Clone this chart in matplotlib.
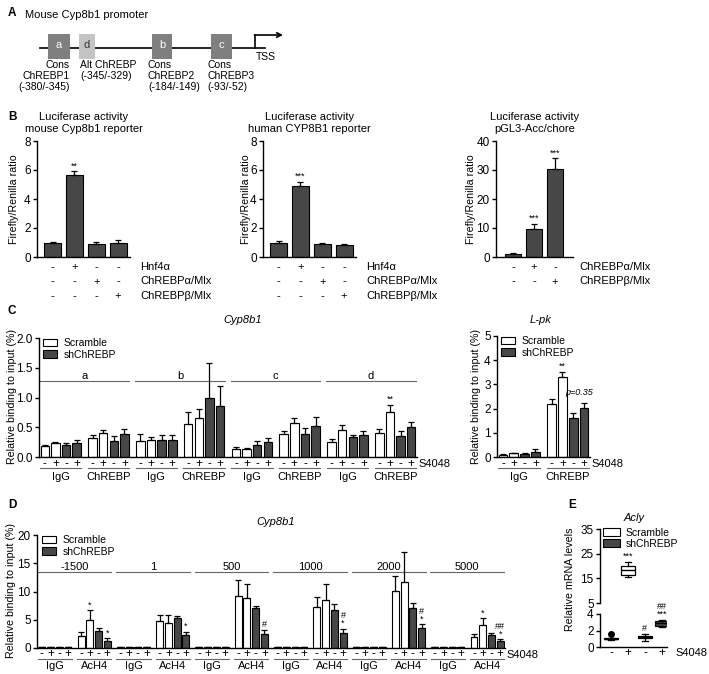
import numpy as np
import matplotlib
matplotlib.use("Agg")
import matplotlib.pyplot as plt
from matplotlib.patches import Patch, Rectangle
from matplotlib.transforms import offset_copy

plt.rcParams['font.family'] = ['Liberation Sans', 'DejaVu Sans']
plt.rcParams['font.size'] = 8
plt.rcParams['axes.linewidth'] = 1.0

W, H = 709, 674
DARK = '#474747'
GRAY_LINE = '#666666'
FS_TICK = 8.5
FS_TXT = 8
FS_YLAB = 7.7

# ---- panel B: luciferase ----
b_mouse_vals = [1.0, 5.65, 0.92, 1.0]
b_mouse_err = [0.05, 0.25, 0.10, 0.20]
b_mouse_sig = ['', '**', '', '']
b_human_vals = [1.0, 4.9, 0.92, 0.85]
b_human_err = [0.08, 0.30, 0.08, 0.05]
b_human_sig = ['', '***', '', '']
b_acc_vals = [1.0, 9.5, 30.2]
b_acc_err = [0.3, 2.0, 3.8]
b_acc_sig = ['', '***', '***']
b_rows = ['Hnf4α', 'ChREBPα/Mlx', 'ChREBPβ/Mlx']
b_signs = [['-', '+', '-', '-'], ['-', '-', '+', '-'], ['-', '-', '-', '+']]
b_acc_rows = ['ChREBPα/Mlx', 'ChREBPβ/Mlx']
b_acc_signs = [['-', '+', '-'], ['-', '-', '+']]

# ---- panel C: ChIP Cyp8b1 (Scramble -, Scramble +, shChREBP -, shChREBP +) ----
c_regions = ['a', 'b', 'c', 'd']
c_groups = ['IgG', 'ChREBP', 'IgG', 'ChREBP', 'IgG', 'ChREBP', 'IgG', 'ChREBP']
c_vals = [
    [0.18, 0.23, 0.20, 0.24],
    [0.32, 0.40, 0.27, 0.39],
    [0.27, 0.29, 0.28, 0.29],
    [0.56, 0.65, 1.00, 0.86],
    [0.14, 0.13, 0.21, 0.26],
    [0.38, 0.57, 0.38, 0.52],
    [0.26, 0.45, 0.33, 0.37],
    [0.41, 0.75, 0.36, 0.51],
]
c_err = [
    [0.02, 0.03, 0.03, 0.04],
    [0.05, 0.06, 0.08, 0.08],
    [0.12, 0.05, 0.09, 0.08],
    [0.19, 0.15, 0.58, 0.33],
    [0.02, 0.02, 0.06, 0.06],
    [0.06, 0.08, 0.11, 0.16],
    [0.04, 0.09, 0.04, 0.07],
    [0.06, 0.13, 0.08, 0.08],
]
c_sig = {(7, 1): '**'}

# L-pk
lpk_groups = ['IgG', 'ChREBP']
lpk_vals = [[0.10, 0.15, 0.13, 0.22], [2.18, 3.30, 1.60, 2.02]]
lpk_err = [[0.02, 0.03, 0.03, 0.12], [0.20, 0.23, 0.22, 0.22]]
lpk_sig = {(1, 1): '**'}

# ---- panel D: AcH4 ChIP ----
d_regions = ['-1500', '1', '500', '1000', '2000', '5000']
d_groups = ['IgG', 'AcH4'] * 6
d_vals = [
    [0.12, 0.15, 0.12, 0.10], [2.1, 5.0, 3.0, 1.3],
    [0.12, 0.15, 0.12, 0.10], [4.8, 4.4, 5.3, 2.3],
    [0.15, 0.20, 0.12, 0.10], [9.2, 8.8, 7.0, 2.5],
    [0.12, 0.15, 0.12, 0.10], [7.3, 8.5, 6.7, 2.7],
    [0.15, 0.20, 0.12, 0.10], [10.1, 11.7, 7.0, 3.5],
    [0.12, 0.15, 0.12, 0.10], [2.0, 4.1, 2.3, 1.2],
]
d_err = [
    [0.03, 0.03, 0.03, 0.03], [0.8, 1.7, 0.5, 0.4],
    [0.03, 0.03, 0.03, 0.03], [1.0, 1.4, 0.4, 0.6],
    [0.03, 0.03, 0.03, 0.03], [2.8, 2.5, 0.4, 0.7],
    [0.03, 0.03, 0.03, 0.03], [1.7, 2.8, 1.0, 0.7],
    [0.03, 0.03, 0.03, 0.03], [2.7, 5.3, 0.9, 0.7],
    [0.03, 0.03, 0.03, 0.03], [0.4, 1.2, 0.3, 0.4],
]
d_sig = {(1, 1): '*', (1, 3): '*', (3, 3): '*', (5, 3): '#', (7, 3): '#\n*',
         (9, 3): '#\n*', (11, 1): '*', (11, 3): '##\n*'}

# ---- panel E: Acly mRNA box plots ----
e_med = [1.0, 18.5, 1.2, 2.85]
e_q1 = [0.92, 16.3, 1.1, 2.55]
e_q3 = [1.08, 20.0, 1.35, 3.1]
e_lo = [0.85, 15.6, 0.7, 2.4]
e_hi = [1.15, 21.8, 1.6, 3.3]
e_fliers = [[1.6], [], [], []]
e_signs = ['-', '+', '-', '+']
e_colors = ['white', 'white', DARK, DARK]

sign4 = ['-', '+', '-', '+']

fig = plt.figure(figsize=(W / 100, H / 100), dpi=100)

# overlay in pixel coordinates for schematic and free text
ov = fig.add_axes([0, 0, 1, 1])
ov.set_xlim(0, W)
ov.set_ylim(H, 0)
ov.axis('off')


def px_axes(x0, y0, x1, y1):
    ax = fig.add_axes([x0 / W, 1 - y1 / H, (x1 - x0) / W, (y1 - y0) / H])
    ax.spines['top'].set_visible(False)
    ax.spines['right'].set_visible(False)
    ax.tick_params(direction='out', length=3, width=1, pad=1.5, labelsize=FS_TICK)
    ax.set_xticks([])
    return ax


def below(ax, dy):
    return offset_copy(ax.get_xaxis_transform(), fig=fig, x=0, y=-dy, units='dots')


def axes_off(ax, dx, dy):
    return offset_copy(ax.transAxes, fig=fig, x=dx, y=-dy, units='dots')


def mark(ax, x, top, s, size=6.5):
    ax.annotate(s, (x, top), xytext=(0, 0.5), textcoords='offset points',
                ha='center', va='bottom', fontsize=size, linespacing=0.8,
                annotation_clip=False)


# ---------------- panel A ----------------
ov.text(8, 13, 'A', fontsize=8.5, fontweight='bold', va='center')
ov.text(25, 15, 'Mouse Cyp8b1 promoter', fontsize=8, va='center')
ov.plot([40, 265], [48, 48], color='black', lw=1.2)
for lbl, x0, x1, col, tc in [('a', 48, 70, '#7f7f7f', 'white'), ('d', 79, 95, '#c4c4c4', '#333333'),
                             ('b', 152, 172, '#7f7f7f', 'white'), ('c', 211, 232, '#7f7f7f', 'white')]:
    ov.add_patch(Rectangle((x0, 34), x1 - x0, 25, facecolor=col, edgecolor='none', zorder=3))
    ov.text((x0 + x1) / 2, 45, lbl, color=tc, fontsize=8, ha='center', va='center', zorder=4)
ov.plot([255, 255], [48, 35], color='black', lw=1.2)
ov.annotate('', xy=(283, 35), xytext=(254.4, 35),
            arrowprops=dict(arrowstyle='->', lw=1.2, color='black', shrinkA=0, shrinkB=0))
ov.text(256, 57, 'TSS', fontsize=7.5, va='center')
ov.text(70, 60, 'Cons\nChREBP1\n(-380/-345)', ha='right', va='top', multialignment='right',
        fontsize=7.5, linespacing=1.15)
ov.text(80, 60, 'Alt ChREBP\n(-345/-329)', ha='left', va='top', fontsize=7.5, linespacing=1.15)
ov.text(148, 60, 'Cons\nChREBP2\n(-184/-149)', ha='left', va='top', fontsize=7.5, linespacing=1.15)
ov.text(207, 60, 'Cons\nChREBP3\n(-93/-52)', ha='left', va='top', fontsize=7.5, linespacing=1.15)

# ---------------- panel B ----------------
ov.text(8, 117, 'B', fontsize=8.5, fontweight='bold', va='center')


def lucif(box, vals, err, sig, ymax, yt, rows, signs, title, xlim, ylab_x, row_dx):
    ax = px_axes(*box)
    x = np.arange(len(vals))
    ax.bar(x, vals, 0.78, color=DARK, edgecolor='black', linewidth=0.8)
    ax.errorbar(x, vals, yerr=[np.zeros(len(vals)), err], fmt='none', ecolor='black',
                elinewidth=0.9, capsize=2.5, capthick=0.9)
    for xi, v, e, s in zip(x, vals, err, sig):
        if s:
            mark(ax, xi, v + e, s)
    ax.set_ylim(0, ymax)
    ax.set_yticks(yt)
    ax.set_xlim(*xlim)
    for r, (rname, rsigns) in enumerate(zip(rows, signs)):
        dy = 10 + 14.5 * r
        for xi, s in zip(x, rsigns):
            ax.text(xi, 0, s, transform=below(ax, dy), ha='center', va='center', fontsize=FS_TXT)
        ax.text(1, 0, rname, transform=axes_off(ax, row_dx, dy), ha='left', va='center',
                fontsize=FS_TXT)
    cx = (box[0] + box[2]) / 2
    ov.text(cx, 117, 'Luciferase activity', ha='center', va='center', fontsize=FS_TXT)
    ov.text(cx, 129, title, ha='center', va='center', fontsize=FS_TXT)
    ov.text(ylab_x, (box[1] + box[3]) / 2, 'Firefly/Renilla ratio', rotation=90,
            ha='center', va='center', fontsize=FS_YLAB)
    return ax


lucif((37, 141, 130, 257), b_mouse_vals, b_mouse_err, b_mouse_sig, 8, [0, 2, 4, 6, 8],
      b_rows, b_signs, 'mouse Cyp8b1 reporter', (-0.72, 3.55), 14, 10)
lucif((263, 141, 356, 257), b_human_vals, b_human_err, b_human_sig, 8, [0, 2, 4, 6, 8],
      b_rows, b_signs, 'human CYP8B1 reporter', (-0.72, 3.55), 246, 10)
lucif((496, 141, 573, 257), b_acc_vals, b_acc_err, b_acc_sig, 40, [0, 10, 20, 30, 40],
      b_acc_rows, b_acc_signs, 'pGL3-Acc/chore', (-0.8, 2.85), 471, 6)


# ---------------- grouped bar helper (C, D) ----------------
def chip(ax, vals, err, groups, sig, spacing=4.5, w=0.8, dy=(7, 11, 20), fs=FS_TXT):
    vals = np.array(vals)
    err = np.array(err)
    ng = vals.shape[0]
    cols = ['white', 'white', DARK, DARK]
    for k in range(4):
        xs = np.arange(ng) * spacing + k
        ax.bar(xs, vals[:, k], w, color=cols[k], edgecolor='black', linewidth=0.8, zorder=2)
        ax.errorbar(xs, vals[:, k], yerr=[np.zeros(ng), err[:, k]], fmt='none', ecolor='black',
                    elinewidth=0.9, capsize=2, capthick=0.9, zorder=3)
    for (g, k), s in sig.items():
        mark(ax, g * spacing + k, vals[g, k] + err[g, k], s)
    for g in range(ng):
        for k in range(4):
            ax.text(g * spacing + k, 0, sign4[k], transform=below(ax, dy[0]), ha='center',
                    va='center', fontsize=fs + 0.5)
        ax.plot([g * spacing - 0.45, g * spacing + 3.45], [0, 0], transform=below(ax, dy[1]),
                color=GRAY_LINE, lw=0.8, clip_on=False)
        ax.text(g * spacing + 1.5, 0, groups[g], transform=below(ax, dy[2]), ha='center',
                va='center', fontsize=fs)
    ax.text(1, 0, 'S4048', transform=axes_off(ax, 1, dy[0]), ha='left', va='center', fontsize=fs)
    ax.set_xlim(-0.55, ng * spacing - 0.95)


def header(ax, names, yline, spacing=4.5):
    for r, name in enumerate(names):
        x0 = 2 * r * spacing - 0.5
        x1 = 2 * r * spacing + spacing + 3.45
        ax.plot([x0, x1], [yline, yline], color=GRAY_LINE, lw=0.8)
        ax.text((x0 + x1) / 2, yline, name, ha='center', va='bottom', fontsize=FS_TXT)


def legend(ax, anchor, fs=7.5):
    h = [Patch(facecolor='white', edgecolor='black', lw=0.8, label='Scramble'),
         Patch(facecolor=DARK, edgecolor='black', lw=0.8, label='shChREBP')]
    ax.legend(handles=h, loc='upper left', bbox_to_anchor=anchor, frameon=False, fontsize=fs,
              handlelength=1.4, handleheight=0.75, labelspacing=0.15, handletextpad=0.6,
              borderaxespad=0, borderpad=0)


# ---------------- panel C ----------------
ov.text(8, 311, 'C', fontsize=8.5, fontweight='bold', va='center')
axc = px_axes(39, 338, 417, 457)
chip(axc, c_vals, c_err, c_groups, c_sig)
header(axc, c_regions, 1.27)
axc.set_ylim(0, 2.0)
axc.set_yticks([0, 0.5, 1.0, 1.5, 2.0])
axc.set_yticklabels(['0.0', '0.5', '1.0', '1.5', '2.0'])
legend(axc, (0.01, 1.0))
ov.text(243, 320, 'Cyp8b1', style='italic', ha='center', va='center', fontsize=FS_TXT)
ov.text(12, 397, 'Relative binding to input (%)', rotation=90, ha='center', va='center',
        fontsize=FS_YLAB)

axl = px_axes(497, 336, 590, 457)
chip(axl, lpk_vals, lpk_err, lpk_groups, lpk_sig)
axl.set_ylim(0, 5)
axl.set_yticks([0, 1, 2, 3, 4, 5])
legend(axl, (0.04, 1.0))
axl.text(4.5 + 2.5, lpk_vals[1][3] + lpk_err[1][3] + 0.25, 'p=0.35', style='italic',
         ha='center', va='bottom', fontsize=6.5)
ov.text(541, 320, 'L-pk', style='italic', ha='center', va='center', fontsize=FS_TXT)
ov.text(476, 397, 'Relative binding to input (%)', rotation=90, ha='center', va='center',
        fontsize=FS_YLAB)

# ---------------- panel D ----------------
ov.text(8, 505, 'D', fontsize=8.5, fontweight='bold', va='center')
axd = px_axes(37, 535, 505, 648)
chip(axd, d_vals, d_err, d_groups, d_sig, dy=(6.5, 10.5, 18))
header(axd, d_regions, 13.4)
axd.set_ylim(0, 20)
axd.set_yticks([0, 5, 10, 15, 20])
legend(axd, (0.01, 1.0))
ov.text(276, 522, 'Cyp8b1', style='italic', ha='center', va='center', fontsize=FS_TXT)
ov.text(11, 591, 'Relative binding to input (%)', rotation=90, ha='center', va='center',
        fontsize=FS_YLAB)

# ---------------- panel E ----------------
ov.text(568, 505, 'E', fontsize=8.5, fontweight='bold', va='center')
axe_t = px_axes(600, 529, 667, 603)
axe_b = px_axes(600, 614, 667, 647)
axe_t.spines['bottom'].set_visible(False)
axe_t.tick_params(axis='x', length=0)
stats = [dict(med=m, q1=a, q3=b, whislo=lo, whishi=hi, fliers=f)
         for m, a, b, lo, hi, f in zip(e_med, e_q1, e_q3, e_lo, e_hi, e_fliers)]
for ax in (axe_t, axe_b):
    bp = ax.bxp(stats, positions=range(4), widths=0.8, patch_artist=True,
                medianprops=dict(color='black', lw=1),
                whiskerprops=dict(lw=0.9), capprops=dict(lw=0.9),
                flierprops=dict(marker='o', markerfacecolor='black', markeredgecolor='black',
                                markersize=4))
    for p, c in zip(bp['boxes'], e_colors):
        p.set_facecolor(c)
        p.set_edgecolor('black')
        p.set_linewidth(0.9)
    ax.set_xlim(-0.65, 3.3)
    ax.set_xticks([])
axe_t.set_ylim(5, 35)
axe_t.set_yticks([5, 15, 25, 35])
axe_b.set_ylim(0, 4)
axe_b.set_yticks([0, 2, 4])
mark(axe_t, 1, e_hi[1], '***')
mark(axe_b, 2, e_hi[2], '#')
mark(axe_b, 3, e_hi[3], '##\n***')
for i, s in enumerate(e_signs):
    axe_b.text(i, 0, s, transform=below(axe_b, 6), ha='center', va='center', fontsize=FS_TXT + 0.5)
axe_b.text(1, 0, 'S4048', transform=axes_off(axe_b, 8, 6), ha='left', va='center', fontsize=FS_TXT)
h = [Patch(facecolor='white', edgecolor='black', lw=0.8, label='Scramble'),
     Patch(facecolor=DARK, edgecolor='black', lw=0.8, label='shChREBP')]
axe_t.legend(handles=h, loc='upper left', bbox_to_anchor=(0.05, 1.02), frameon=False, fontsize=7.5,
             handlelength=1.6, handleheight=0.8, labelspacing=0.15, handletextpad=0.5,
             borderaxespad=0, borderpad=0)
ov.text(634, 518, 'Acly', style='italic', ha='center', va='center', fontsize=FS_TXT)
ov.text(570, 579, 'Relative mRNA levels', rotation=90, ha='center', va='center', fontsize=FS_YLAB)

fig.savefig('out.png', dpi=100)
